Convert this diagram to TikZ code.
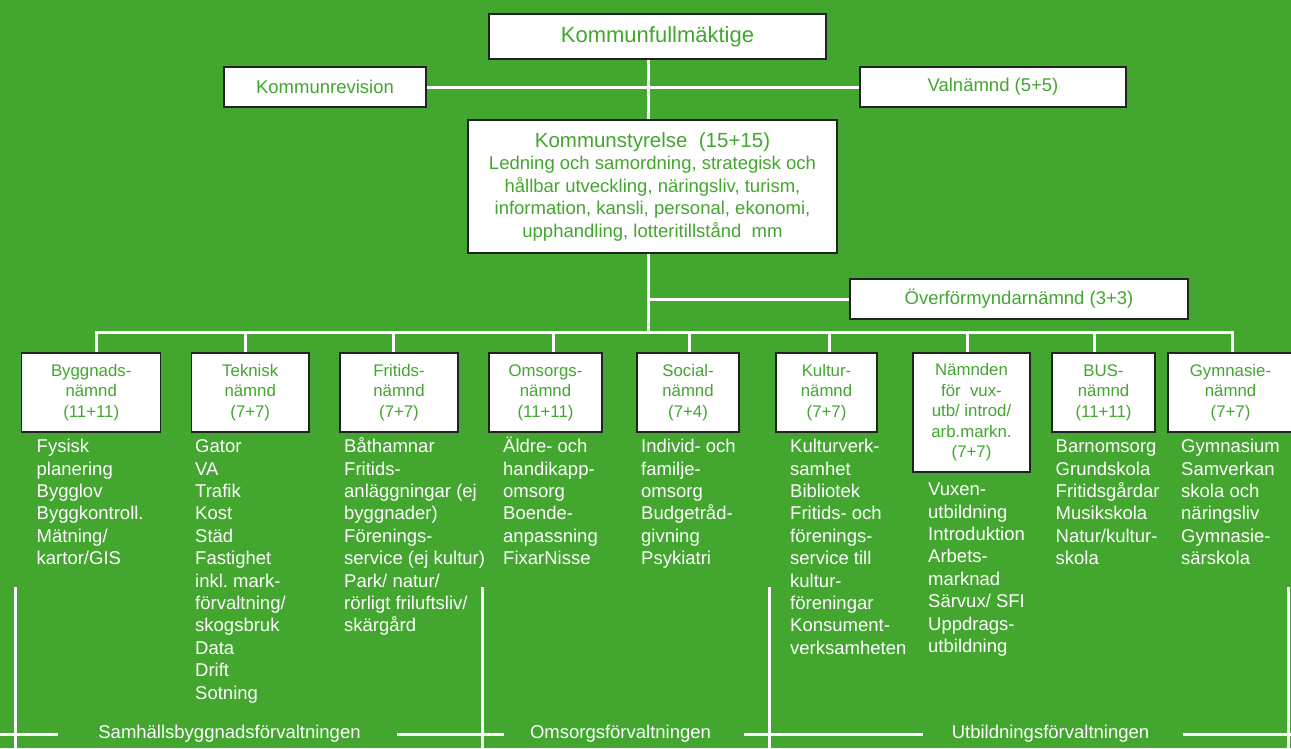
\documentclass[tikz,border=0pt]{standalone}
\usepackage{fontspec}
\setmainfont{Liberation Sans}
\frenchspacing
\definecolor{kgreen}{RGB}{67,166,47}
\definecolor{edgegray}{RGB}{34,34,34}
\newcommand{\firstln}{\rule{0pt}{18pt}}
\begin{document}
\begin{tikzpicture}[x=1pt,y=-1pt,
  box/.style={draw=edgegray,line width=1.4pt,fill=white,text=kgreen,inner sep=0pt,align=center},
  nbox/.style={box,font=\fontsize{16.8}{20.5}\selectfont,minimum height=79pt},
  desc/.style={text=white,align=left,anchor=north west,inner sep=0pt,font=\fontsize{18.5}{22.4}\selectfont},
  conn/.style={draw=white,line width=3pt},
  sepline/.style={draw=white,line width=3pt},
  foot/.style={text=white,inner sep=0pt,font=\fontsize{18.5}{22.4}\selectfont}]
\useasboundingbox (0,0) rectangle (1291,748);
\fill[kgreen] (0,0) rectangle (1291,748);

\coordinate (trunk) at (648,0);
\coordinate (bus) at (648,332.5);

% top level
\node[box,font=\fontsize{22}{26}\selectfont,minimum width=337pt,minimum height=45pt] (kf) at (657.5,36.5) {Kommunfullmäktige};
\node[box,font=\fontsize{18.5}{22}\selectfont,minimum width=202pt,minimum height=40pt] (kr) at (325,87) {Kommunrevision};
\node[box,font=\fontsize{18.5}{22}\selectfont,minimum width=266pt,minimum height=40pt] (vn) at (993,87) {Valnämnd (5+5)};
\node[box,font=\fontsize{18.5}{22.5}\selectfont,minimum width=369pt,minimum height=133pt] (ks) at (652.5,186.5)
  {{\fontsize{20.5}{22.5}\selectfont Kommunstyrelse\ \ (15+15)}\\Ledning och samordning, strategisk och\\hållbar utveckling, näringsliv, turism,\\information, kansli, personal, ekonomi,\\upphandling, lotteritillstånd\ \ mm};
\node[box,font=\fontsize{18.5}{22}\selectfont,minimum width=338pt,minimum height=40pt] (of) at (1019,299) {Överförmyndarnämnd (3+3)};

% committees
\node[nbox,minimum width=139pt] (b1) at (91.2,392.5) {Byggnads-\\nämnd\\(11+11)};
\node[nbox,minimum width=117.5pt] (b2) at (250.25,392.5) {Teknisk\\nämnd\\(7+7)};
\node[nbox,minimum width=118pt] (b3) at (399,392.5) {Fritids-\\nämnd\\(7+7)};
\node[nbox,minimum width=113pt] (b4) at (545.5,392.5) {Omsorgs-\\nämnd\\(11+11)};
\node[nbox,minimum width=102pt] (b5) at (688,392.5) {Social-\\nämnd\\(7+4)};
\node[nbox,minimum width=101pt] (b6) at (826.5,392.5) {Kultur-\\nämnd\\(7+7)};
\node[nbox,minimum width=117pt,minimum height=119pt] (b7) at (971.5,412.5) {Nämnden\\för\ \ vux-\\utb/ introd/\\arb.markn.\\(7+7)};
\node[nbox,minimum width=103pt] (b8) at (1103.5,392.5) {BUS-\\nämnd\\(11+11)};
\node[nbox,minimum width=125pt] (b9) at (1230.5,392.5) {Gymnasie-\\nämnd\\(7+7)};

% connectors
\draw[conn] (kf.south -| trunk) -- (ks.north -| trunk);
\draw[conn] (kr.east) -- (vn.west);
\draw[conn] (ks.south -| trunk) -- (bus);
\draw[conn] (of.west) -- (of.west -| trunk);
\draw[conn] ([xshift=4.8pt]b1.north) |- (bus) -| ([xshift=1.5pt]b9.north);
\draw[conn] ([xshift=-5.2pt]b2.north) -- ([xshift=-5.2pt]b2.north |- bus);
\draw[conn] ([xshift=-6pt]b3.north) -- ([xshift=-6pt]b3.north |- bus);
\draw[conn] ([xshift=7.5pt]b4.north) -- ([xshift=7.5pt]b4.north |- bus);
\draw[conn] ([xshift=1pt]b5.north) -- ([xshift=1pt]b5.north |- bus);
\draw[conn] ([xshift=2.5pt]b6.north) -- ([xshift=2.5pt]b6.north |- bus);
\draw[conn] ([xshift=-4.5pt]b7.north) -- ([xshift=-4.5pt]b7.north |- bus);
\draw[conn] ([xshift=-9pt]b8.north) -- ([xshift=-9pt]b8.north |- bus);

% descriptions (first baseline = y + 18)
\node[desc] (d1) at (36.5,434.5) {\firstln Fysisk\\planering\\Bygglov\\Byggkontroll.\\Mätning/\\kartor/GIS};
\node[desc] (d2) at (195,434.5) {\firstln Gator\\VA\\Trafik\\Kost\\Städ\\Fastighet\\inkl. mark-\\förvaltning/\\skogsbruk\\Data\\Drift\\Sotning};
\node[desc] (d3) at (344,434.5) {\firstln Båthamnar\\Fritids-\\anläggningar (ej\\byggnader)\\Förenings-\\service (ej kultur)\\Park/ natur/\\rörligt friluftsliv/\\skärgård};
\node[desc] (d4) at (503,434.5) {\firstln Äldre- och\\handikapp-\\omsorg\\Boende-\\anpassning\\FixarNisse};
\node[desc] (d5) at (641,434.5) {\firstln Individ- och\\familje-\\omsorg\\Budgetråd-\\givning\\Psykiatri};
\node[desc] (d6) at (790,434.5) {\firstln Kulturverk-\\samhet\\Bibliotek\\Fritids- och\\förenings-\\service till\\kultur-\\föreningar\\Konsument-\\verksamheten};
\node[desc] (d7) at (928,477.5) {\firstln Vuxen-\\utbildning\\Introduktion\\Arbets-\\marknad\\Särvux/ SFI\\Uppdrags-\\utbildning};
\node[desc] (d8) at (1055.5,434.5) {\firstln Barnomsorg\\Grundskola\\Fritidsgårdar\\Musikskola\\Natur/kultur-\\skola};
\node[desc] (d9) at (1181,434.5) {\firstln Gymnasium\\Samverkan\\skola och\\näringsliv\\Gymnasie-\\särskola};

% administrations (footer)
\draw[sepline] (15,587) -- (15,748);
\draw[sepline] (482,587) -- (482,748);
\draw[sepline] (769,587) -- (769,748);
\draw[sepline] (1288,587) -- (1288,748);
\draw[sepline] (0,734) -- (58,734);
\draw[sepline] (397,734) -- (504,734);
\draw[sepline] (744,734) -- (923,734);
\draw[sepline] (1183,734) -- (1291,734);
\node[foot] (f1) at (229.5,734) {Samhällsbyggnadsförvaltningen};
\node[foot] (f2) at (620.5,734) {Omsorgsförvaltningen};
\node[foot] (f3) at (1050.5,734) {Utbildningsförvaltningen};
\end{tikzpicture}
\end{document}
